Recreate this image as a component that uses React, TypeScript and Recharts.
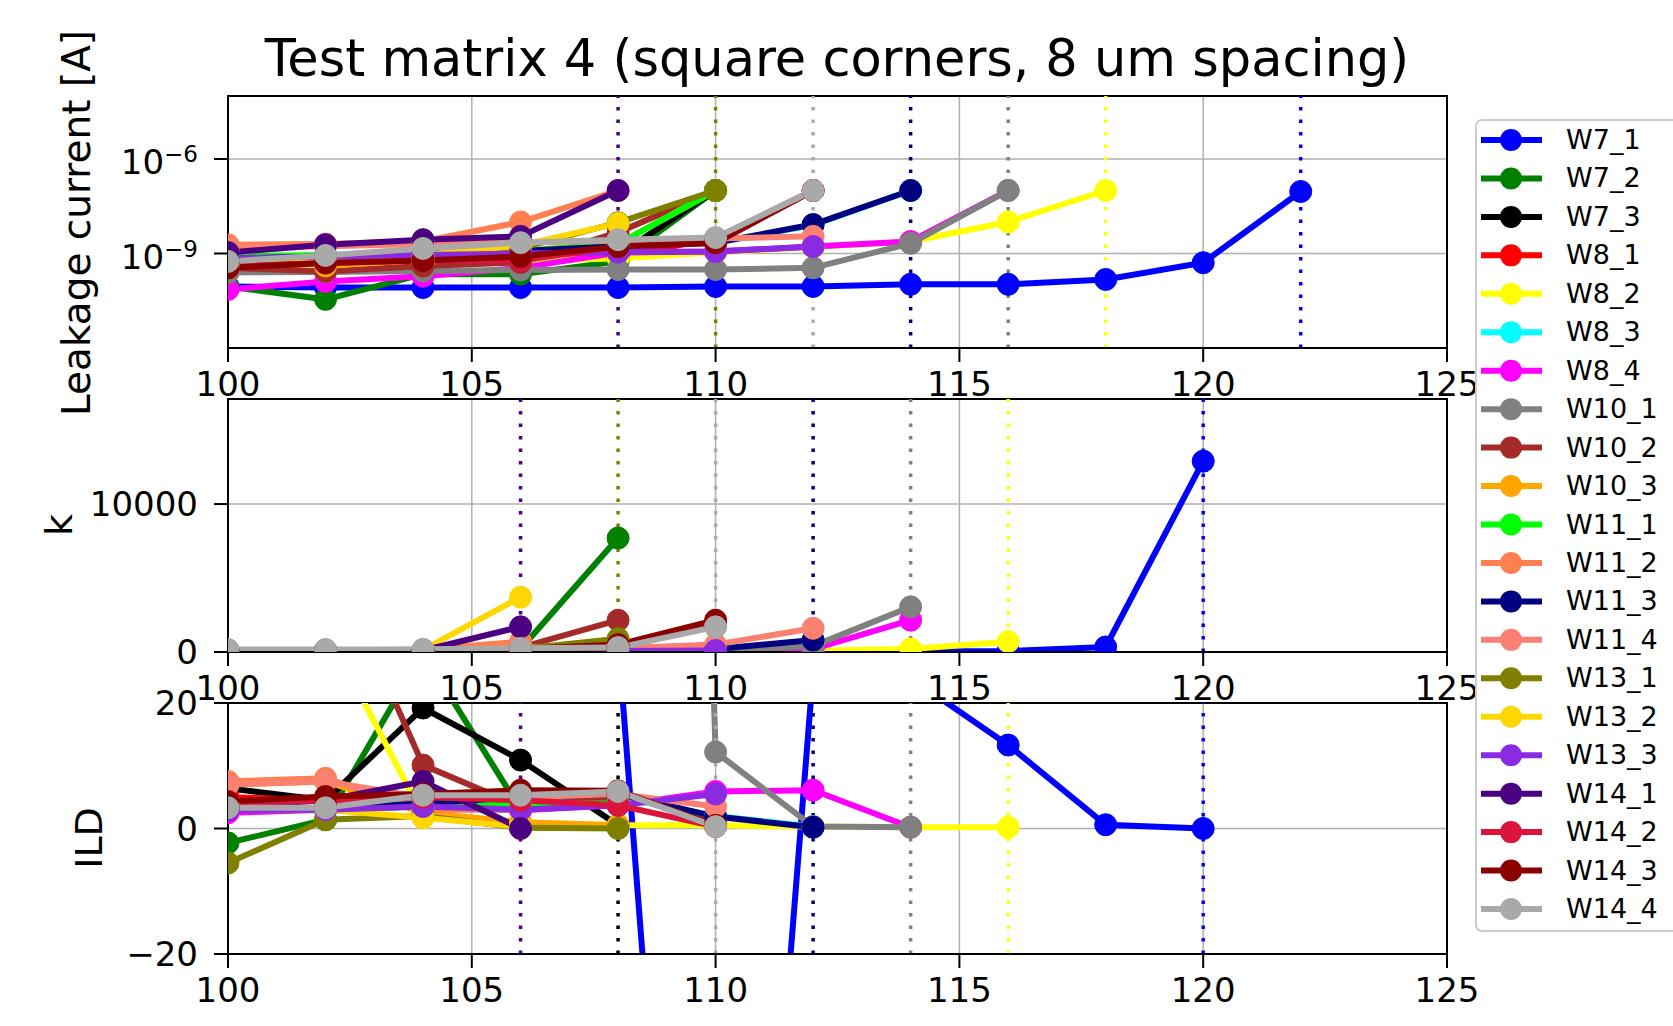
import React from 'react'
import { LineChart, Line, XAxis, YAxis, CartesianGrid, ReferenceLine, ReferenceArea } from 'recharts'

const FONT = '"DejaVu Sans", "Liberation Sans", sans-serif'

const seriesNames = ['W7_1', 'W7_2', 'W7_3', 'W8_1', 'W8_2', 'W8_3', 'W8_4', 'W10_1', 'W10_2', 'W10_3', 'W11_1',
  'W11_2', 'W11_3', 'W11_4', 'W13_1', 'W13_2', 'W13_3', 'W14_1', 'W14_2', 'W14_3', 'W14_4']
const seriesColors = ['#0000ff', '#008000', '#000000', '#ff0000', '#ffff00', '#00ffff', '#ff00ff', '#808080', '#a52a2a',
  '#ffa500', '#00ff00', '#ff7f50', '#000080', '#fa8072', '#808000', '#ffd700', '#8a2be2', '#4b0082', '#dc143c', '#8b0000', '#a9a9a9']

// leakage current [A] vs voltage
const leakX = [100, 102, 104, 106, 108, 110, 112, 114, 116, 118, 120, 122]
const leakage = [
  [9e-11, 8.3e-11, 8.3e-11, 8.3e-11, 8.3e-11, 9e-11, 9e-11, 1.05e-10, 1.05e-10, 1.5e-10, 5.1e-10, 9.3e-8], // W7_1
  [9e-11, 3.5e-11, 2.2e-10, 2.2e-10, 5.6e-10, 1e-7], // W7_2
  [5e-10, 5.5e-10, 6e-10, 7e-10, 9e-10, 1e-7], // W7_3
  [5e-10, 5e-10, 6e-10, 6.3e-10, 8e-10, 3e-9, 1e-7], // W8_1
  [4e-10, 4.5e-10, 5e-10, 6e-10, 7e-10, 1.1e-9, 1.6e-9, 2.4e-9, 1e-8, 1e-7], // W8_2
  [7e-10, 8e-10, 9e-10, 1.2e-9, 1.8e-9, 2.2e-9, 8e-9, 1e-7], // W8_3
  [7.2e-11, 1.3e-10, 1.9e-10, 3.5e-10, 1.07e-9, 1.15e-9, 1.66e-9, 2.4e-9, 1e-7], // W8_4
  [2.5e-10, 2.6e-10, 2.8e-10, 3e-10, 3.1e-10, 3.1e-10, 3.5e-10, 2.1e-9, 1e-7], // W10_1
  [3.5e-10, 2.7e-10, 4e-10, 5.2e-10, 4.7e-9, 1e-7], // W10_2
  [1.2e-9, 4e-10, 6.5e-10, 1.2e-9, 2e-9, 1e-7], // W10_3
  [8e-10, 9e-10, 1e-9, 1.2e-9, 2e-9, 1e-7], // W11_1
  [1.9e-9, 2e-9, 2.4e-9, 1e-8, 1e-7], // W11_2
  [7e-10, 8e-10, 1e-9, 1.2e-9, 1.7e-9, 2.2e-9, 8.3e-9, 1e-7], // W11_3
  [1.5e-9, 1.7e-9, 2e-9, 2.2e-9, 2.6e-9, 3e-9, 3.5e-9], // W11_4
  [6e-10, 7e-10, 9e-10, 1.5e-9, 9.5e-9, 1e-7], // W13_1
  [6e-10, 7e-10, 9e-10, 1.8e-9, 9e-9], // W13_2
  [7e-10, 8e-10, 9e-10, 1e-9, 1.1e-9, 1.15e-9, 1.66e-9], // W13_3
  [1.07e-9, 1.9e-9, 2.75e-9, 3.5e-9, 1e-7], // W14_1
  [4e-10, 5e-10, 6e-10, 6e-10, 1.66e-9, 2.2e-9, 1e-7], // W14_2
  [3.5e-10, 5e-10, 6e-10, 8e-10, 1.66e-9, 2.2e-9, 1e-7], // W14_3
  [5.6e-10, 8.7e-10, 1.45e-9, 2.2e-9, 2.75e-9, 3.2e-9, 1e-7], // W14_4
]

// k
const kX = [100, 102, 104, 106, 108, 110, 112, 114, 116, 118, 120]
const kValues = [
  [50, 30, 20, 20, 20, 30, 40, 40, 60, 340, 12900], // W7_1
  [80, 100, 50, 200, 7700], // W7_2
  [60, 50, 80, 150, 300], // W7_3
  [40, 60, 80, 150, 300, 1800], // W8_1
  [20, 20, 30, 40, 50, 60, 80, 200, 700], // W8_2
  [30, 40, 50, 80, 120, 200, 600], // W8_3
  [30, 40, 50, 80, 60, 100, 200, 2150], // W8_4
  [150, 150, 120, 100, 60, 80, 400, 3050], // W10_1
  [60, 80, 100, 300, 2150], // W10_2
  [80, 100, 120, 300, 500], // W10_3
  [40, 50, 80, 150, 400], // W11_1
  [100, 120, 150, 700], // W11_2
  [30, 40, 50, 80, 100, 200, 810], // W11_3
  [80, 100, 120, 150, 250, 500, 1600], // W11_4
  [50, 80, 100, 200, 900], // W13_1
  [40, 60, 150, 3700], // W13_2
  [20, 30, 40, 50, 60, 100], // W13_3
  [60, 80, 100, 1700], // W14_1
  [40, 60, 80, 120, 300, 1900], // W14_2
  [50, 70, 100, 200, 500, 2150], // W14_3
  [150, 160, 180, 250, 300, 1700], // W14_4
]

// ILD
const ildX = [100, 102, 104, 106, 108, 110, 112, 114, 116, 118, 120]
const ildValues = [
  [40, 35, 45, 38, 30, -170, 25, 24, 13.3, 0.6, 0], // W7_1
  [-2.3, 1.4, 28, 3, 5], // W7_2
  [6.4, 4.5, 19.2, 10.9, 0.5], // W7_3
  [5, 4.5, 5, 5.5, 5.5, 1], // W8_1
  [45, 32, 2, 1, 0.5, 0.5, 0.3, 0.2, 0.2], // W8_2
  [3, 3, 4, 4.5, 5, 2, 0.3], // W8_3
  [2.5, 3, 3.5, 2.9, 3.7, 5.9, 6.1, 0.2], // W8_4
  [60, 80, 120, 300, 500, 12.2, 0.3, 0.2], // W10_1
  [40, 45, 10.1, 3.5, 5], // W10_2
  [7, 7.5, 2.5, 1, 0.5], // W10_3
  [3, 3, 3.5, 4, 4], // W11_1
  [7.5, 8, 3, 3], // W11_2
  [3, 3.2, 4, 5, 5.5, 1.9, 0.2], // W11_3
  [7, 7.5, 5, 5, 5.5, 3.5], // W11_4
  [-5.5, 1.4, 2, 0.1, 0], // W13_1
  [4, 3, 1.7, 0.3], // W13_2
  [3, 3, 3.5, 3, 3.7, 5.5], // W13_3
  [3.5, 4.5, 7.5, 0], // W14_1
  [4, 4.5, 5, 4.5, 3.7, 0.3], // W14_2
  [4.3, 5.1, 5.5, 6.1, 6, 0.5], // W14_3
  [3.3, 3.3, 5.3, 5.3, 5.9, 0.3], // W14_4
]

// breakdown markers (voltage, series whose colour shows on top)
const leakBreaks: [number, string][] = [[108, 'W14_1'], [110, 'W13_1'], [112, 'W14_4'], [114, 'W11_3'], [116, 'W10_1'], [118, 'W8_2'], [122, 'W7_1']]
const kBreaks: [number, string][] = [[106, 'W14_1'], [108, 'W13_1'], [110, 'W14_4'], [112, 'W11_3'], [114, 'W10_1'], [116, 'W8_2'], [120, 'W7_1']]
const ildBreaks: [number, string][] = [[106, 'W14_1'], [108, 'W7_3'], [110, 'W14_4'], [112, 'W11_3'], [114, 'W10_1'], [116, 'W8_2'], [120, 'W7_1']]

const xTicks = [100, 105, 110, 115, 120, 125]
const leakTicks = [1e-9, 1e-6]
const kTicks = [0, 10000]
const ildTicks = [-20, 0, 20]

const colorOf = (name: string) => seriesColors[seriesNames.indexOf(name)]

function makeRows(xs: number[], values: number[][]) {
  return xs.map((x, i) => {
    const row: Record<string, number | null> = { x }
    seriesNames.forEach((n, j) => { row[n] = values[j][i] ?? null })
    return row
  })
}

const tickStyle = { fontSize: 34, fill: '#000', fontFamily: FONT }
const minus = (v: number) => (v < 0 ? '\u2212' + Math.abs(v) : String(v))

const PowTick = (props: any) => {
  const { x, y, payload } = props
  const e = Math.round(Math.log10(payload.value))
  return (
    <text x={x} y={y} textAnchor="end" fontFamily={FONT} fill="#000">
      <tspan dy={15} fontSize={34}>10</tspan>
      <tspan dy={-12} fontSize={23}>{minus(e)}</tspan>
    </text>
  )
}

type PanelProps = {
  top: number
  height: number
  marginTop: number
  xHeight: number
  rows: Record<string, number | null>[]
  domain: [number, number]
  ticks: number[]
  log?: boolean
  breaks: [number, string][]
}

function Panel({ top, height, marginTop, xHeight, rows, domain, ticks, log, breaks }: PanelProps) {
  return (
    <div style={{ position: 'absolute', left: 0, top, width: 1520, height }}>
      <LineChart width={1520} height={height} data={rows} margin={{ top: marginTop, right: 73, left: 108, bottom: 24 }}>
        <CartesianGrid stroke="#b0b0b0" strokeWidth={1.5} />
        <XAxis dataKey="x" type="number" domain={[100, 125]} ticks={xTicks} interval={0} allowDataOverflow
          height={xHeight} tickSize={14} tickMargin={10} tick={tickStyle}
          tickLine={{ stroke: '#000', strokeWidth: 2 }} axisLine={{ stroke: '#000', strokeWidth: 2 }} />
        <YAxis width={120} type="number" scale={log ? 'log' : 'linear'} domain={domain} ticks={ticks} interval={0}
          allowDataOverflow tickSize={14} tickMargin={16}
          tick={log ? <PowTick /> : tickStyle} tickFormatter={log ? undefined : minus}
          tickLine={{ stroke: '#000', strokeWidth: 2 }} axisLine={{ stroke: '#000', strokeWidth: 2 }} />
        {seriesNames.map((n, i) => (
          <Line key={n} dataKey={n} stroke={seriesColors[i]} strokeWidth={6} connectNulls={false}
            dot={{ r: 11, fill: seriesColors[i], stroke: seriesColors[i], strokeWidth: 1 }} activeDot={false}
            isAnimationActive={false} />
        ))}
        {breaks.map(([x, n]) => (
          <ReferenceLine key={x} x={x} stroke={colorOf(n)} strokeWidth={3.5} strokeDasharray="3.5 9" />
        ))}
        <ReferenceArea x1={100} x2={125} y1={domain[0]} y2={domain[1]} fill="none" stroke="#000" strokeWidth={2} />
      </LineChart>
    </div>
  )
}

export default function App() {
  const leakRows = makeRows(leakX, leakage)
  const kRows = makeRows(kX, kValues)
  const ildRows = makeRows(ildX, ildValues)
  return (
    <div style={{ position: 'absolute', left: 0, top: 0, width: 1673, height: 1026, background: '#fff', overflow: 'hidden' }}>
      <Panel top={0} height={424} marginTop={96} xHeight={52} rows={leakRows} domain={[1e-12, 1e-4]} ticks={leakTicks} log breaks={leakBreaks} />
      <Panel top={359} height={365} marginTop={40} xHeight={48} rows={kRows} domain={[0, 17100]} ticks={kTicks} breaks={kBreaks} />
      <Panel top={663} height={363} marginTop={40} xHeight={48} rows={ildRows} domain={[-20, 20]} ticks={ildTicks} breaks={ildBreaks} />
      <svg width={1673} height={1026} style={{ position: 'absolute', left: 0, top: 0, pointerEvents: 'none' }} fontFamily={FONT}>
        <text x={837} y={76} textAnchor="middle" fontSize={51} fill="#000">Test matrix 4 (square corners, 8 um spacing)</text>
        <text transform="translate(90,223) rotate(-90)" textAnchor="middle" fontSize={39} fill="#000">Leakage current [A]</text>
        <text transform="translate(72,525) rotate(-90)" textAnchor="middle" fontSize={38} fill="#000">k</text>
        <text transform="translate(102,838) rotate(-90)" textAnchor="middle" fontSize={38} fill="#000">ILD</text>
        <rect x={1476} y={120} width={230} height={811} rx={6} fill="#fff" fillOpacity={0.85} stroke="#cccccc" strokeWidth={2} />
        {seriesNames.map((n, i) => {
          const y = 140 + i * 38.45
          return (
            <g key={n}>
              <line x1={1481} x2={1542} y1={y} y2={y} stroke={seriesColors[i]} strokeWidth={6} />
              <circle cx={1511} cy={y} r={11} fill={seriesColors[i]} />
              <text x={1566} y={y + 9} fontSize={27} fill="#000">{n}</text>
            </g>
          )
        })}
      </svg>
    </div>
  )
}
